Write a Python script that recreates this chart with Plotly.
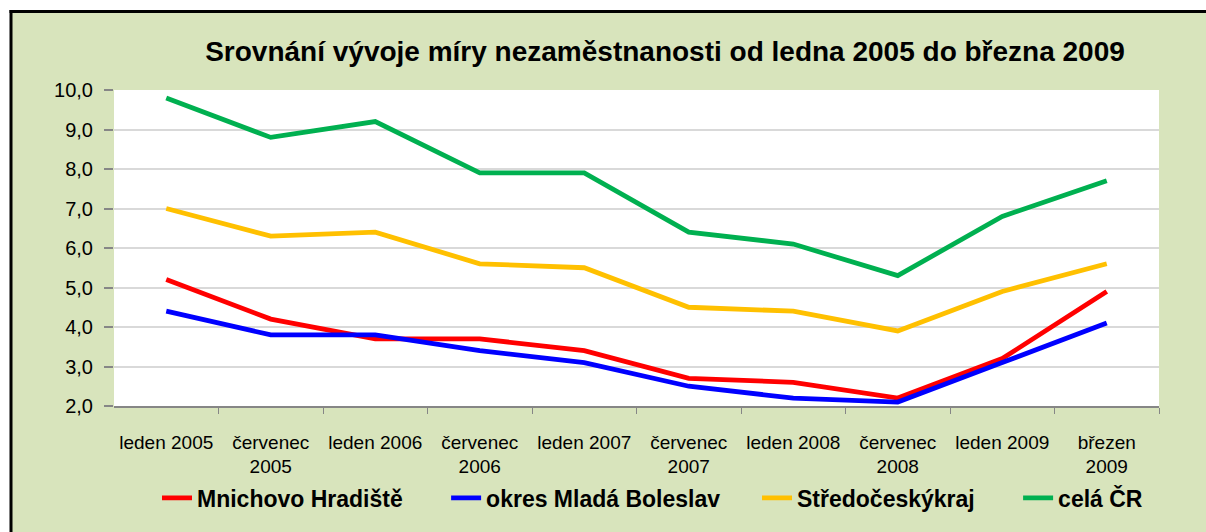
import plotly.graph_objects as go

categories = ["leden 2005", "červenec<br>2005", "leden 2006", "červenec<br>2006", "leden 2007",
              "červenec<br>2007", "leden 2008", "červenec<br>2008", "leden 2009", "březen<br>2009"]
mnichovo = [5.2, 4.2, 3.7, 3.7, 3.4, 2.7, 2.6, 2.2, 3.2, 4.9]
boleslav = [4.4, 3.8, 3.8, 3.4, 3.1, 2.5, 2.2, 2.1, 3.1, 4.1]
stredocesky = [7.0, 6.3, 6.4, 5.6, 5.5, 4.5, 4.4, 3.9, 4.9, 5.6]
cr = [9.8, 8.8, 9.2, 7.9, 7.9, 6.4, 6.1, 5.3, 6.8, 7.7]

series = [
    ("Mnichovo Hradiště", mnichovo, "#ff0000", 6),
    ("okres Mladá Boleslav", boleslav, "#0000ff", 5),
    ("Středočeskýkraj", stredocesky, "#ffc000", 6),
    ("celá ČR", cr, "#00b050", 0),
]

W, H = 1206, 532
L, R, T, B = 114, 1159, 90, 406

fig = go.Figure()
for name, vals, col, pad in series:
    fig.add_trace(go.Scatter(x=list(range(len(categories))), y=vals, name=name + "\u00a0" * pad,
                             mode="lines", line=dict(color=col, width=4.8)))

def px(x):
    return (x - L) / (R - L)

def py(y):
    return (B - y) / (B - T)

shapes = [
    dict(type="rect", xref="paper", yref="paper", x0=px(-5), x1=px(W + 5), y0=py(-5), y1=py(11.5),
         fillcolor="white", line=dict(width=0), layer="below"),
    dict(type="rect", xref="paper", yref="paper", x0=px(-5), x1=px(10), y0=py(-5), y1=py(H + 5),
         fillcolor="white", line=dict(width=0), layer="below"),
    dict(type="line", xref="paper", yref="paper", x0=px(9.5), x1=px(W + 5), y0=py(11.5), y1=py(11.5),
         line=dict(color="black", width=3)),
    dict(type="line", xref="paper", yref="paper", x0=px(11), x1=px(11), y0=py(10), y1=py(H + 5),
         line=dict(color="black", width=3)),
]

fig.update_layout(
    width=W, height=H,
    margin=dict(l=L, r=W - R, t=T, b=H - B, pad=0, autoexpand=False),
    paper_bgcolor="#d8e4bc",
    plot_bgcolor="white",
    separators=", ",
    font=dict(family="Liberation Sans, Arial, sans-serif", color="black"),
    title=dict(text="<b>Srovnání vývoje míry nezaměstnanosti od ledna 2005 do března 2009</b>",
               xref="container", x=665 / W, xanchor="center", y=1 - 51 / H, yanchor="middle",
               font=dict(family="Liberation Sans, Arial, sans-serif", size=28, color="black")),
    showlegend=True,
    legend=dict(orientation="h", x=px(157), xanchor="left", y=py(498), yanchor="middle",
                font=dict(family="Liberation Sans, Arial, sans-serif",
                          size=23, color="black", weight="bold"),
                bgcolor="rgba(0,0,0,0)", itemwidth=30, tracegroupgap=0),
    shapes=shapes,
)

fig.update_xaxes(
    type="linear", range=[-0.5, 9.5],
    tickmode="array", tickvals=list(range(len(categories))), ticktext=categories,
    showgrid=False, zeroline=False,
    showline=True, linecolor="#868686", linewidth=1.5,
    ticks="", tickfont=dict(size=19, family="Liberation Sans, Arial, sans-serif"),
    ticklabelstandoff=18,
    minor=dict(tickmode="array", tickvals=[i + 0.5 for i in range(len(categories))],
               ticks="outside", ticklen=6, tickcolor="#868686", tickwidth=1, showgrid=False),
)
fig.update_yaxes(
    range=[2, 10], dtick=1, tick0=2, tickformat=".1f",
    showgrid=True, gridcolor="#d9d9d9", gridwidth=1.5, zeroline=False,
    showline=False, ticks="outside", ticklen=9, tickcolor="#868686", tickwidth=1.5,
    tickfont=dict(size=20, family="Liberation Sans, Arial, sans-serif"),
    ticklabelstandoff=7,
)

fig.write_html("out.html", config={"displayModeBar": False},
               post_script="document.body.style.margin='0';")
